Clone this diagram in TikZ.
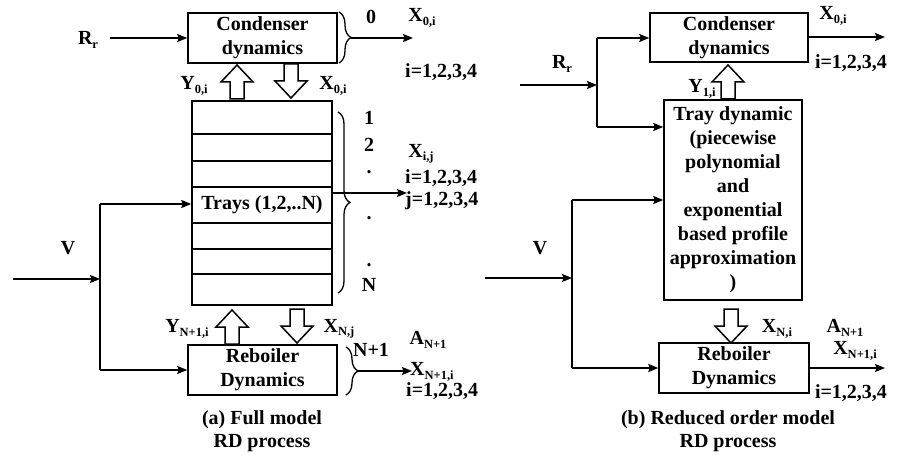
\documentclass[tikz,border=0pt]{standalone}
\usepackage{fontspec}
\setmainfont{Liberation Serif}
\usetikzlibrary{arrows.meta,decorations.pathreplacing}
\newcommand\sbs[1]{\raisebox{-0.35ex}{\fontsize{12.5}{12.5}\selectfont #1}}
\newcommand\mfont{\bfseries\fontsize{20}{24}\selectfont}
\tikzset{
  box/.style={draw, line width=1.5pt, inner sep=0pt, align=center, font=\mfont},
  lbl/.style={inner sep=0pt, font=\mfont},
  dotlbl/.style={lbl, text height=3pt, text depth=0pt},
  flow/.style={line width=1.5pt, -{Stealth[length=10pt,width=8pt,inset=1.5pt]}},
  wire/.style={line width=1.5pt},
  blkst/.style={line width=1.5pt, line join=miter, fill=white},
  pics/bup/.style={code={\draw[blkst] (-7,17) -- (-7,0) -- (-16,0) -- (0,-17) -- (16,0) -- (7,0) -- (7,17) -- cycle;}},
  pics/bdown/.style={code={\draw[blkst] (-7,-17) -- (-7,0) -- (-16,0) -- (0,17) -- (16,0) -- (7,0) -- (7,-17) -- cycle;}},
  brc/.style={line width=1.3pt, decorate, decoration={brace, amplitude=12pt}}
}
\begin{document}
\begin{tikzpicture}[x=1pt, y=-1pt]
\useasboundingbox (0,0) rectangle (899,457);
% ================= (a) full model =================
\node[box, minimum width=149pt, minimum height=50pt] (cond) at (262.5,38) {Condenser\\dynamics};
\node[lbl] (rr) at (88,40) {R\sbs{r}};
\coordinate (rrs) at (110,38);
\draw[flow] (rrs) -- (cond.west);
\draw[brc] (339,12) -- (339,63);
\coordinate (cbt) at (351,38);
\coordinate (condout) at (413,38);
\draw[flow] (cbt) -- (condout);
\node[lbl] (zero) at (371,17) {0};
\node[lbl] (x0i) at (422,18) {X\sbs{0,i}};
\node[lbl, anchor=west] (i1) at (405,72) {i=1,2,3,4};

\node[box, minimum width=140pt, minimum height=204pt] (trays) at (262,203) {};
\foreach \yy [count=\k] in {134,161,187,223,249,274}
  \draw[wire] (trays.west |- 0,\yy) -- (trays.east |- 0,\yy);
\node[lbl] (trayslbl) at (262,205) {Trays (1,2,..N)};

\pic (y0) at (237,82) {bup};
\node[lbl] (y0l) at (194,86) {Y\sbs{0,i}};
\pic (x0) at (291,81) {bdown};
\node[lbl] (x0l) at (333,86) {X\sbs{0,i}};

\draw[brc] (338,112) -- (338,293);
\node[lbl] (n1) at (369,118) {1};
\node[lbl] (n2) at (369,145) {2};
\node[dotlbl] (d1) at (369,172) {.};
\node[dotlbl] (d2) at (369,218) {.};
\node[dotlbl] (d3) at (369,265) {.};
\node[lbl] (nn) at (369,285) {N};
\coordinate (trout) at (407,193);
\draw[flow] (trays.east |- trout) -- (trout);
\node[lbl] (xij) at (421,154) {X\sbs{i,j}};
\node[lbl, anchor=west] (i2) at (405,178) {i=1,2,3,4};
\node[lbl, anchor=west] (j2) at (405,201) {j=1,2,3,4};

\node[box, minimum width=149pt, minimum height=50pt] (reb) at (262.5,370) {Reboiler\\Dynamics};
\pic (yn) at (232,327) {bup};
\node[lbl] (ynl) at (187,329) {Y\sbs{N+1,i}};
\pic (xn) at (297,326) {bdown};
\node[lbl] (xnl) at (339,329) {X\sbs{N,j}};

\node[lbl] (v) at (68,248) {V};
\coordinate (vs) at (13,279);
\coordinate (vj) at (100,279);
\coordinate (vt) at (100,204);
\coordinate (vb) at (100,370);
\draw[flow] (vs) -- (vj);
\draw[wire] (vt) -- (vb);
\draw[flow] (vt) -- (trays.west |- vt);
\draw[flow] (vb) -- (reb.west);

\draw[brc] (346,347) -- (346,395);
\node[lbl] (np1) at (371,350) {N+1};
\coordinate (rbt) at (358,371);
\coordinate (rebout) at (412,371);
\draw[flow] (rbt) -- (rebout);
\node[lbl] (an1) at (428,340) {A\sbs{N+1}};
\node[lbl, anchor=west] (xn1) at (410,372) {X\sbs{N+1,i}};
\node[lbl, anchor=west] (i3) at (406,391) {i=1,2,3,4};
\node[lbl] (capa1) at (262,420) {(a) Full model};
\node[lbl] (capa2) at (262,443) {RD process};

% ================= (b) reduced model =================
\node[box, minimum width=158pt, minimum height=49pt] (cond2) at (729,37.5) {Condenser\\dynamics};
\node[lbl] (rr2) at (562,64) {R\sbs{r}};
\coordinate (rs2) at (520,85);
\coordinate (rj2) at (597,85);
\coordinate (rt2) at (597,38);
\coordinate (rb2) at (597,127);
\draw[flow] (rs2) -- (rj2);
\draw[wire] (rt2) -- (rb2);
\draw[flow] (rt2) -- (cond2.west |- rt2);

\node[box, minimum width=138pt, minimum height=200pt] (tray2) at (733,200)
  {Tray dynamic\\(piecewise\\polynomial\\and\\exponential\\based profile\\approximation\\)};
\draw[flow] (rb2) -- (tray2.west |- rb2);

\pic (y1) at (728,82) {bup};
\node[lbl] (y1l) at (702,89) {Y\sbs{1,i}};
\coordinate (cond2out) at (885,37);
\draw[flow] (cond2.east |- cond2out) -- (cond2out);
\node[lbl] (x0i2) at (833,16) {X\sbs{0,i}};
\node[lbl] (i4) at (851,63) {i=1,2,3,4};

\node[lbl] (v2) at (540,248) {V};
\coordinate (vs2) at (485,278);
\coordinate (vj2) at (572,278);
\coordinate (vt2) at (572,200);
\coordinate (vb2) at (572,368);
\draw[flow] (vs2) -- (vj2);
\draw[wire] (vt2) -- (vb2);
\draw[flow] (vt2) -- (tray2.west |- vt2);

\node[box, minimum width=150pt, minimum height=50pt] (reb2) at (734,368) {Reboiler\\Dynamics};
\draw[flow] (vb2) -- (reb2.west);
\pic (xn2) at (731,326) {bdown};
\node[lbl] (xn2l) at (777,329) {X\sbs{N,i}};
\node[lbl] (an2) at (845,328) {A\sbs{N+1}};
\node[lbl] (xn12) at (855,351) {X\sbs{N+1,i}};
\coordinate (reb2out) at (885,368);
\draw[flow] (reb2.east) -- (reb2out);
\node[lbl] (i5) at (851,393) {i=1,2,3,4};
\node[lbl] (capb1) at (728,420) {(b) Reduced order model};
\node[lbl] (capb2) at (728,443) {RD process};
\end{tikzpicture}
\end{document}
